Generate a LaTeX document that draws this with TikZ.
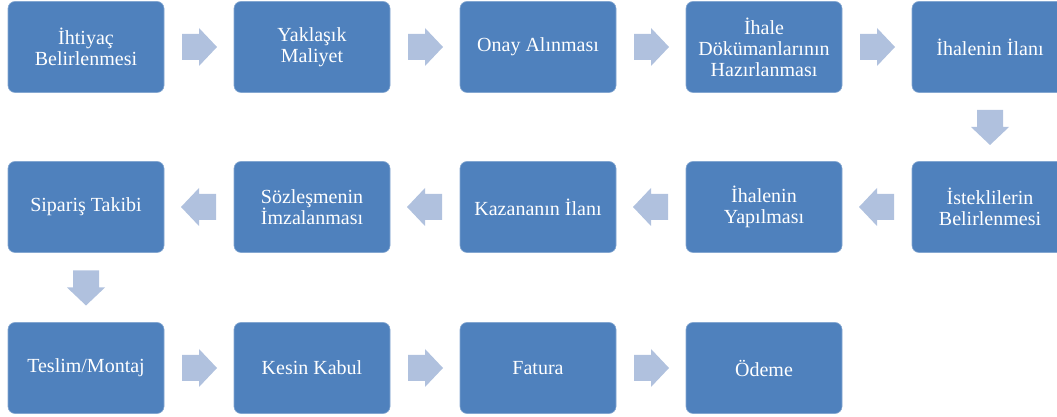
\documentclass[tikz,border=0pt]{standalone}
\usepackage{fontspec}
\setmainfont{Liberation Serif}
\usetikzlibrary{calc}
\definecolor{boxblue}{HTML}{4F81BD}
\definecolor{arrowblue}{HTML}{B0C1DE}
\tikzset{
  stepbox/.style={fill=boxblue, draw=boxblue!70!white, line width=0.6pt, rounded corners=7pt,
    minimum width=156pt, minimum height=91pt, inner sep=2pt, align=center, text=white,
    font=\fontsize{20}{21}\selectfont},
  blockarrow/.style={fill=arrowblue, draw=none}
}
\newcommand\barrow[2]{\fill[blockarrow, shift={(#1)}, rotate=#2] (-17,-13) -- (0,-13) -- (0,-19) -- (18,0) -- (0,19) -- (0,13) -- (-17,13) -- cycle;}
\begin{document}
\begin{tikzpicture}[x=1pt,y=1pt]
\useasboundingbox (0,0) rectangle (1057,417);
\begin{scope}
\clip (0,0) rectangle (1057,417);
% row 1
\node[stepbox] (n1) at (86,370) {İhtiyaç\\Belirlenmesi};
\node[stepbox] (n2) at (312,370) {Yaklaşık\\Maliyet};
\node[stepbox] (n3) at (538,370) {Onay Alınması};
\node[stepbox] (n4) at (764,370) {İhale\\Dökümanlarının\\Hazırlanması};
\node[stepbox] (n5) at (990,370) {İhalenin İlanı};
% row 2
\node[stepbox] (n6) at (990,210) {İsteklilerin\\Belirlenmesi};
\node[stepbox] (n7) at (764,210) {İhalenin\\Yapılması};
\node[stepbox] (n8) at (538,210) {Kazananın İlanı};
\node[stepbox] (n9) at (312,210) {Sözleşmenin\\İmzalanması};
\node[stepbox] (n10) at (86,210) {Sipariş Takibi};
% row 3
\node[stepbox] (n11) at (86,49) {Teslim/Montaj};
\node[stepbox] (n12) at (312,49) {Kesin Kabul};
\node[stepbox] (n13) at (538,49) {Fatura};
\node[stepbox] (n14) at (764,49) {Ödeme};
\end{scope}
% arrows
\coordinate (a12) at ($(n1.east)!0.5!(n2.west)$);
\coordinate (a23) at ($(n2.east)!0.5!(n3.west)$);
\coordinate (a34) at ($(n3.east)!0.5!(n4.west)$);
\coordinate (a45) at ($(n4.east)!0.5!(n5.west)$);
\coordinate (a56) at ($(n5.south)!0.5!(n6.north)$);
\coordinate (a67) at ($(n6.west)!0.5!(n7.east)$);
\coordinate (a78) at ($(n7.west)!0.5!(n8.east)$);
\coordinate (a89) at ($(n8.west)!0.5!(n9.east)$);
\coordinate (a910) at ($(n9.west)!0.5!(n10.east)$);
\coordinate (a1011) at ($(n10.south)!0.5!(n11.north)$);
\coordinate (a1112) at ($(n11.east)!0.5!(n12.west)$);
\coordinate (a1213) at ($(n12.east)!0.5!(n13.west)$);
\coordinate (a1314) at ($(n13.east)!0.5!(n14.west)$);
\barrow{a12}{0}
\barrow{a23}{0}
\barrow{a34}{0}
\barrow{a45}{0}
\barrow{a56}{-90}
\barrow{a67}{180}
\barrow{a78}{180}
\barrow{a89}{180}
\barrow{a910}{180}
\barrow{a1011}{-90}
\barrow{a1112}{0}
\barrow{a1213}{0}
\barrow{a1314}{0}
\end{tikzpicture}
\end{document}
